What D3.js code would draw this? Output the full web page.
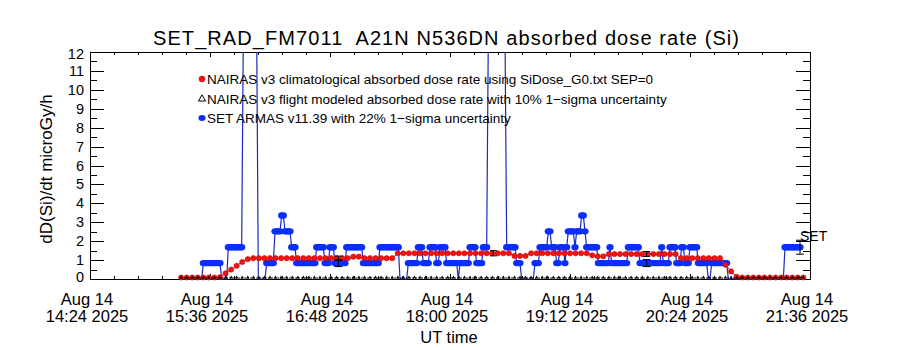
<!DOCTYPE html>
<html><head><meta charset="utf-8">
<script src="https://cdn.jsdelivr.net/npm/d3@7"></script>
<style>body{margin:0;background:#fff}svg{display:block}text{font-family:"Liberation Sans",Arial,sans-serif;fill:#000;white-space:pre}</style>
</head><body><svg id="c" width="900" height="350"></svg>
<script>
// ---------------- data ----------------
const titleText = "SET_RAD_FM7011  A21N N536DN absorbed dose rate (Si)";
const yLabel = "dD(Si)/dt microGy/h";
const xLabel = "UT time";
const dateStr = "2025-08-14";
const xDomain = ["14:24:00", "21:36:00"];
const xTickTimes = ["14:24:00","15:36:00","16:48:00","18:00:00","19:12:00","20:24:00","21:36:00"];
const yTicks = [0,1,2,3,4,5,6,7,8,9,10,11,12];
const legendLabels = [
  "NAIRAS v3 climatological absorbed dose rate using SiDose_G0.txt SEP=0",
  "NAIRAS v3 flight modeled absorbed dose rate with 10% 1\u2212sigma uncertainty",
  "SET ARMAS v11.39 with 22% 1\u2212sigma uncertainty"
];
const seriesLabel = "SET";

// SET ARMAS, 1-minute samples starting 15:30 UT (values above 12 are off scale)
const setStart = "15:30:00";
const setStepSec = 60;
const setValues = [
0,0,
0.84,0.84,0.84,0.84,0.84,0.84,0.84,0.84,0.84,0.84,0.84,
0,0,0,0,
1.68,1.68,1.68,1.68,1.68,1.68,1.68,1.68,1.68,
40,40,40,40,40,40,40,40,40,
0,0,0,0,0,
0.84,0.84,0.84,0.84,0.84,
2.52,2.52,2.52,2.52,
3.36,3.36,
2.52,2.52,2.52,2.52,
1.68,1.68,1.68,
0.84,0.84,0.84,0.84,0.84,0.84,0.84,0.84,0.84,0.84,0.84,0.84,
1.68,1.68,1.68,1.68,1.68,
0.84,0.84,0.84,
1.68,1.68,1.68,
0.84,0.84,0.84,0.84,0.84,0.84,0.84,
1.68,1.68,1.68,1.68,1.68,1.68,1.68,1.68,1.68,1.68,
0.84,0.84,0.84,0.84,0.84,0.84,0.84,0.84,0.84,0.84,
1.68,1.68,1.68,1.68,1.68,1.68,1.68,1.68,1.68,1.68,1.68,1.68,
0,0,0,0,0,
0.84,0.84,0.84,0.84,0.84,0.84,
1.68,1.68,1.68,
0.84,0.84,0.84,0.84,
1.68,1.68,1.68,1.68,
0.84,0.84,
1.68,1.68,1.68,1.68,
0.84,0.84,0.84,0.84,0.84,0.84,0.84,
0,
0.84,0.84,0.84,0.84,0.84,0.84,
1.68,1.68,1.68,1.68,
0.84,0.84,0.84,0.84,
1.68,1.68,1.68,
40,40,40,40,40,40,40,40,40,40,40,
1.68,1.68,1.68,1.68,1.68,1.68,
0.84,0.84,0.84,
0,0,0,0,0,0,0,0,
0.84,0.84,0.84,
1.68,1.68,1.68,1.68,1.68,
2.52,2.52,
1.68,1.68,1.68,
0.84,0.84,
1.68,1.68,1.68,
0.84,
1.68,
2.52,2.52,2.52,2.52,
1.68,
2.52,2.52,2.52,
3.36,3.36,
2.52,
1.68,1.68,1.68,1.68,1.68,1.68,1.68,
0.84,0.84,0.84,0.84,0.84,0.84,0.84,
1.68,
0.84,0.84,0.84,0.84,0.84,0.84,0.84,0.84,0.84,0.84,
1.68,1.68,1.68,1.68,1.68,1.68,1.68,
0.84,0.84,0.84,0.84,0.84,0.84,0.84,0.84,0.84,0.84,0.84,0.84,0.84,
1.68,
0.84,0.84,0.84,0.84,
1.68,1.68,1.68,1.68,
0.84,0.84,0.84,
1.68,1.68,
0.84,0.84,0.84,
1.68,1.68,1.68,1.68,1.68,
0.84,0.84,0.84,0.84,0.84,0.84,
0,0,
0.84,0.84,0.84,0.84,0.84,0.84,0.84,0.84,0.84,0.84,
0,0,0,0,0,0,0,0,0,0,
0,0,0,0,0,0,0,0,0,0,
0,0,0,0,0,0,0,0,0,0,
0,0,0,0,
1.68,1.68,1.68,1.68,1.68,1.68,1.68,1.68,1.68,1.68
];

// NAIRAS, 200-second samples starting 15:18:40 UT
const nairasStart = "15:18:40";
const nairasStepSec = 200;
const nairasClimValues = [
0.08,0.08,0.08,0.08,0.08,0.08,0.08,
0.1,0.3,0.5,0.7,0.9,1.05,
1.1,1.1,1.1,1.1,1.1,1.1,1.1,1.1,1.1,1.1,1.1,1.1,1.1,1.1,1.1,1.1,1.1,1.1,
1.18,1.18,
1.1,1.1,1.1,1.1,1.1,1.1,
1.36,1.36,1.36,1.36,1.36,1.36,1.36,1.36,1.36,1.36,1.36,1.36,1.36,1.36,1.36,1.36,1.36,1.36,1.36,1.36,1.36,
1.22,1.22,1.22,
1.36,1.36,1.36,1.36,1.36,1.36,1.36,1.36,1.36,1.36,1.36,
1.25,1.2,1.2,
1.32,1.32,1.32,1.32,1.32,1.32,1.32,1.32,1.32,1.32,1.32,1.32,1.32,
1.1,1.1,1.1,1.1,1.1,1.1,1.1,1.1,
0.75,0.4,0.12,
0.08,0.08,0.08,0.08,0.08,0.08,0.08,0.08,0.08,0.08,0.08,0.08
];
const nairasFlightValues = [
0,0,0,0,0,0,0,0,0,0,
0,0,0,0,0,0,0,0,0,0,
0,0,0,0,0,0,0,0,0,0,
0,0,0,0,0,0,0,0,0,0,
0,0,0,0,0,0,0,0,0,0,
0,0,0,0,0,0,0,0,0,0,
0,0,0,0,0,0,0,0,0,0,
0,0,0,0,0,0,0,0,0,0,
0,0,0,0,0,0,0,0,0,0,
0,0,0,0,0,0,0,0,0,0,
0,0,0,0,0,0,0,0,0,0,
0,0,0
];
const errTimes = ["16:53:00","18:26:00","19:58:00","21:30:00"];
const setErrFrac = 0.22;
const nairasErrFrac = 0.10;

// ---------------- chart ----------------
const parse = d3.utcParse("%Y-%m-%d %H:%M:%S");
const toDate = s => parse(dateStr + " " + s);
const L = 90, R = 810, T = 52, B = 279;
const x = d3.scaleUtc().domain(xDomain.map(toDate)).range([L, R]);
const y = d3.scaleLinear().domain([0, 12]).range([B, T]);

const setT0 = toDate(setStart).getTime();
const setData = setValues.map((v, i) => ({t: new Date(setT0 + i * setStepSec * 1000), v}));
const nT0 = toDate(nairasStart).getTime();
const climData = nairasClimValues.map((v, i) => ({t: new Date(nT0 + i * nairasStepSec * 1000), v}));
const flightData = nairasFlightValues.map((v, i) => ({t: new Date(nT0 + i * nairasStepSec * 1000), v}));

const svg = d3.select("#c");
svg.append("rect").attr("width", 900).attr("height", 350).attr("fill", "#fff");
svg.append("defs").append("clipPath").attr("id", "clip")
  .append("rect").attr("x", L).attr("y", T).attr("width", R - L).attr("height", B - T + 4);

// title
svg.append("text").attr("x", 153).attr("y", 45)
  .attr("font-size", 20).attr("textLength", 586).attr("lengthAdjust", "spacing").text(titleText);

// axes ticks
const minorX = d3.range(0, 31).map(k => new Date(x.domain()[0].getTime() + k * 14.4 * 60000));
const minorY = d3.range(0, 12.01, 0.5);
const tickG = svg.append("g").attr("stroke", "#000").attr("stroke-width", 1).attr("shape-rendering", "crispEdges");
function hx(t){ return Math.round(x(t)) + 0.5; }
function hy(v){ return Math.round(y(v)) + 0.5; }
minorX.forEach((t, k) => {
  const len = (k % 5 === 0) ? 5 : 3;
  tickG.append("line").attr("x1", hx(t)).attr("x2", hx(t)).attr("y1", B).attr("y2", B - len);
  tickG.append("line").attr("x1", hx(t)).attr("x2", hx(t)).attr("y1", T).attr("y2", T + len);
});
minorY.forEach(v => {
  const len = Number.isInteger(v) ? 14 : 7;
  tickG.append("line").attr("x1", L).attr("x2", L + len).attr("y1", hy(v)).attr("y2", hy(v));
  tickG.append("line").attr("x1", R).attr("x2", R - len).attr("y1", hy(v)).attr("y2", hy(v));
});
tickG.append("rect").attr("x", L + 0.5).attr("y", T + 0.5).attr("width", R - L).attr("height", B - T)
  .attr("fill", "none");

// y tick labels
yTicks.forEach((v, i) => {
  let off = 0;
  if (i === 0) off = -2.5;
  if (i === yTicks.length - 1) off = 2;
  svg.append("text").attr("x", 84).attr("y", y(v) + off + 5).attr("text-anchor", "end")
    .attr("font-size", 14.5).text(v);
});
// x tick labels
const fmt1 = d3.utcFormat("%b %d"), fmt2 = d3.utcFormat("%H:%M %Y");
xTickTimes.map(toDate).forEach(t => {
  const g = svg.append("text").attr("text-anchor", "middle").attr("font-size", 16.5);
  g.append("tspan").attr("x", x(t) - 3).attr("y", 305).text(fmt1(t));
  g.append("tspan").attr("x", x(t) - 3).attr("y", 322).text(fmt2(t));
});
svg.append("text").attr("x", 449).attr("y", 343).attr("text-anchor", "middle").attr("font-size", 16.5).text(xLabel);
svg.append("text").attr("transform", "translate(52,169) rotate(-90)").attr("text-anchor", "middle")
  .attr("font-size", 17).text(yLabel);

// data
const plot = svg.append("g").attr("clip-path", "url(#clip)");
const blueFill = "#0a2eff", blueLine = "#1a2bc0", redFill = "#f01414";
plot.append("path").datum(setData)
  .attr("d", d3.line().x(d => x(d.t)).y(d => y(Math.min(d.v, 13))))
  .attr("fill", "none").attr("stroke", blueLine).attr("stroke-width", 1.2);
plot.selectAll(".sm").data(setData.filter(d => d.v > 0)).join("ellipse")
  .attr("cx", d => x(d.t)).attr("cy", d => y(d.v)).attr("rx", 3.6).attr("ry", 3.2)
  .attr("fill", blueFill);

plot.append("path").datum(climData)
  .attr("d", d3.line().x(d => x(d.t)).y(d => y(d.v)))
  .attr("fill", "none").attr("stroke", redFill).attr("stroke-width", 1);
plot.selectAll(".rm").data(climData).join("circle")
  .attr("cx", d => x(d.t)).attr("cy", d => y(d.v)).attr("r", 2.6)
  .attr("fill", redFill).attr("stroke", "#c80000").attr("stroke-width", 0.6);

const tri = d3.symbol().type(d3.symbolTriangle).size(5);
plot.append("path").datum(flightData)
  .attr("d", d3.line().x(d => x(d.t)).y(d => y(d.v) - 1))
  .attr("fill", "none").attr("stroke", "#000").attr("stroke-width", 1).attr("stroke-dasharray", "2,1");
plot.selectAll(".bm").data(flightData).join("path")
  .attr("transform", d => `translate(${x(d.t)},${y(d.v) - 1.5})`).attr("d", tri).attr("fill", "#000");

// error bars
function nearest(data, t) {
  const i = d3.bisector(d => d.t).center(data, t);
  return data[i];
}
const errG = plot.append("g").attr("stroke", "#000").attr("stroke-width", 1);
function errBar(xp, v, f, cap) {
  const y1 = y(v * (1 - f)), y2 = y(v * (1 + f));
  errG.append("line").attr("x1", xp).attr("x2", xp).attr("y1", y1).attr("y2", y2);
  errG.append("line").attr("x1", xp - cap).attr("x2", xp + cap).attr("y1", y1).attr("y2", y1);
  errG.append("line").attr("x1", xp - cap).attr("x2", xp + cap).attr("y1", y2).attr("y2", y2);
}
errTimes.map(toDate).forEach(t => {
  const s = nearest(setData, t);
  errBar(x(s.t), s.v, setErrFrac, 4);
  const n = nearest(climData, t);
  errBar(x(s.t), n.v, nairasErrFrac, 3.5);
});
// series label at last SET point
const last = setData[setData.length - 1];
svg.append("text").attr("x", x(last.t)).attr("y", y(last.v) - 6).attr("font-size", 14).text(seriesLabel);

// legend
const lg = svg.append("g");
const ly = [79, 99, 118];
legendLabels.forEach((s, i) => {
  lg.append("text").attr("x", 207).attr("y", ly[i] + 5).attr("font-size", 13.5).text(s);
});
lg.append("circle").attr("cx", 202).attr("cy", ly[0]).attr("r", 3).attr("fill", redFill).attr("stroke", "#c80000").attr("stroke-width", 0.6);
lg.append("path").attr("transform", `translate(202,${ly[1]})`).attr("d", d3.symbol().type(d3.symbolTriangle).size(22)).attr("fill", "none").attr("stroke", "#000");
lg.append("ellipse").attr("cx", 202).attr("cy", ly[2]).attr("rx", 3.6).attr("ry", 3).attr("fill", blueFill);
</script></body></html>
